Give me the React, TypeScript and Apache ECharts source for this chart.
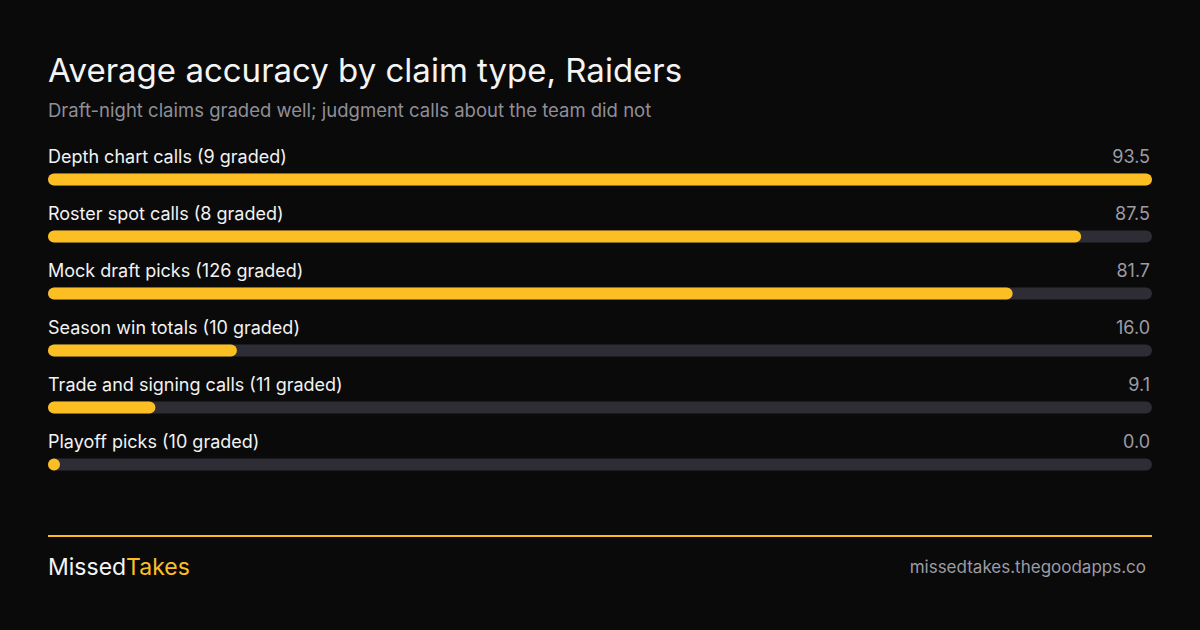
import React, { useEffect, useRef } from "react";
import * as echarts from "echarts";

const categories = [
  "Depth chart calls (9 graded)",
  "Roster spot calls (8 graded)",
  "Mock draft picks (126 graded)",
  "Season win totals (10 graded)",
  "Trade and signing calls (11 graded)",
  "Playoff picks (10 graded)",
];
const values = [93.5, 87.5, 81.7, 16.0, 9.1, 0.0];
const valueLabels = values.map((v) => v.toFixed(1));

const TITLE = "Average accuracy by claim type, Raiders";
const SUBTITLE = "Draft-night claims graded well; judgment calls about the team did not";
const URL = "missedtakes.thegoodapps.co";

const BG = "#0a0a0a";
const YELLOW = "#fbbf24";
const TRACK = "#2e2c35";
const FONT = "Inter, 'Noto Sans', sans-serif";

export default function App() {
  const ref = useRef<HTMLDivElement>(null);
  useEffect(() => {
    document.body.style.margin = "0";
    const chart = echarts.init(ref.current!, null, { renderer: "svg" });
    const maxV = Math.max(...values);
    chart.setOption({
      animation: false,
      backgroundColor: BG,
      textStyle: { fontFamily: FONT },
      grid: { left: 48, right: 48, top: 151, height: 342, containLabel: false },
      xAxis: { type: "value", min: 0, max: maxV, show: false },
      yAxis: {
        type: "category",
        data: categories,
        inverse: true,
        show: false,
      },
      series: [
        {
          type: "bar",
          data: values,
          barWidth: 12,
          barMinHeight: 12,
          showBackground: true,
          backgroundStyle: { color: TRACK, borderRadius: 6 },
          itemStyle: { color: YELLOW, borderRadius: 6 },
          label: { show: false },
          z: 2,
        },
        {
          type: "bar",
          data: values.map(() => maxV),
          barWidth: 12,
          barGap: "-100%",
          itemStyle: { color: "rgba(0,0,0,0)" },
          silent: true,
          z: 3,
          label: {
            show: true,
            position: "insideLeft",
            distance: 0,
            offset: [0, -23],
            color: "#f2f2f2",
            fontSize: 18,
            fontFamily: FONT,
            formatter: (p: any) => categories[p.dataIndex],
          },
        },
        {
          type: "bar",
          data: values.map(() => maxV),
          barWidth: 12,
          barGap: "-100%",
          itemStyle: { color: "rgba(0,0,0,0)" },
          silent: true,
          z: 3,
          label: {
            show: true,
            position: "insideRight",
            distance: 2,
            offset: [0, -23],
            color: "#9c9ca4",
            fontSize: 18,
            fontFamily: FONT,
            formatter: (p: any) => valueLabels[p.dataIndex],
          },
        },
      ],
      graphic: [
        {
          type: "text",
          left: 48,
          top: 53,
          style: { text: TITLE, fill: "#f4f4f4", font: `400 33px ${FONT}` },
        },
        {
          type: "text",
          left: 48,
          top: 100,
          style: { text: SUBTITLE, fill: "#8f8f97", font: `400 18.5px ${FONT}` },
        },
        {
          type: "rect",
          shape: { x: 48, y: 535, width: 1104, height: 2 },
          style: { fill: YELLOW },
        },
        {
          type: "text",
          left: 48,
          top: 555,
          style: {
            text: "{a|Missed}{b|Takes}",
            rich: {
              a: { fill: "#f4f4f4", fontSize: 23, fontFamily: FONT },
              b: { fill: YELLOW, fontSize: 23, fontFamily: FONT },
            },
          },
        },
        {
          type: "text",
          right: 54,
          top: 558,
          style: { text: URL, fill: "#9c9ca4", font: `400 17px ${FONT}` },
        },
      ],
    });
    return () => chart.dispose();
  }, []);
  return (
    <div
      ref={ref}
      style={{ width: 1200, height: 630, position: "fixed", left: 0, top: 0 }}
    />
  );
}
